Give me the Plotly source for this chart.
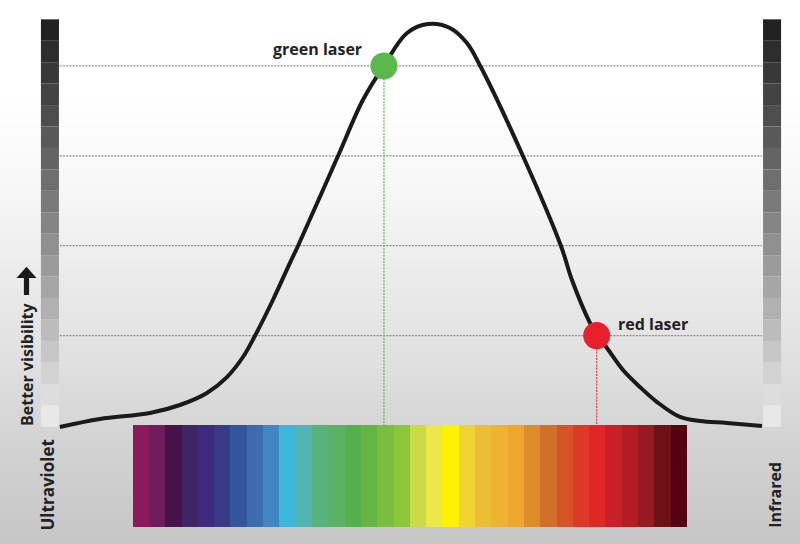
import plotly.graph_objects as go

# ---------------- data ----------------
# Visibility curve: wavelength (nm) vs relative visibility (grid units)
WAVELENGTH = [352.2, 374.4, 402.2, 418.8, 433.8, 444.9, 453.8, 460.4, 470.4, 479.8,
              484.3, 506.5, 520.3, 532.0, 544.8, 556.4, 568.6, 578.0,
              585.3, 609.1, 630.2, 636.3, 646.3, 650.2, 655.7, 664.6,
              674.0, 683.5, 696.2, 707.3, 722.3, 741.7]
VISIBILITY = [-0.017, 0.072, 0.139, 0.228, 0.362, 0.539, 0.762, 0.996, 1.396, 1.807,
              1.997, 2.998, 3.621, 4.004, 4.366, 4.466, 4.422, 4.255,
              4.004, 2.998, 1.997, 1.618, 1.140, 1.007, 0.862, 0.617,
              0.428, 0.261, 0.095, 0.050, 0.028, -0.006]

LASER_NAMES = ["green laser", "red laser"]
LASER_NM = [532, 650]
LASER_VIS = [4.0, 1.0]
LASER_COLORS = ["#5bb84c", "#e8202b"]
LASER_LINE_COLORS = ["#5cb84a", "#e03a3a"]

GRID_LEVELS = [1, 2, 3, 4]

SPECTRUM_COLORS = ["#8b1a5c", "#6f1b5c", "#46124a", "#3e2566", "#3c2b7d", "#383a88",
                   "#33559d", "#3b6cb1", "#4285c5", "#3eb6dc", "#52b5b4", "#57b27e",
                   "#5bb266", "#55b04b", "#66b446", "#7bbd40", "#8cc63f", "#cbdb46",
                   "#ece84c", "#fff200", "#f0d433", "#ecbe35", "#f0b232", "#eea630",
                   "#de8b2b", "#d17029", "#d65327", "#dc3a26", "#e02626", "#c92027",
                   "#b41c24", "#951a22", "#6f1017", "#570010"]
SPECTRUM_START_NM = 392.6
SPECTRUM_END_NM = 700.1

GREY_LEVELS = [34, 45, 56, 67, 78, 89, 100, 111, 122, 133, 144, 155, 166, 177, 188,
               199, 210, 221, 232]  # top -> bottom

AXIS_LABELS = ["Ultraviolet", "Infrared", "Better visibility"]

# ---------------- geometry (view) ----------------
X_RANGE = [319.0, 762.8]
Y_RANGE = [-1.318, 4.733]
W, H = 800, 544
SPEC_BOTTOM, SPEC_TOP = -1.132, 0.006
SCALE_BOTTOM, SCALE_TOP = -0.013, 4.518
LEFT_SCALE = (341.7, 351.7)
RIGHT_SCALE = (742.3, 752.3)
CURVE_START, CURVE_END = WAVELENGTH[0], WAVELENGTH[-1]

def px_x(p):
    return p / W

def px_y(p):
    return 1 - p / H

fig = go.Figure()

# background gradient (white top -> grey bottom)
bg_y = [5.0, 3.73, 2.73, 1.73, 0.73, -0.27, -1.5]
bg_v = [255, 255, 248, 236, 224, 210, 196]
fig.add_trace(go.Heatmap(
    x=[X_RANGE[0] - 5, X_RANGE[1] + 5], y=bg_y,
    z=[[v, v] for v in bg_v], zmin=0, zmax=255,
    colorscale=[[0, "rgb(0,0,0)"], [1, "rgb(255,255,255)"]],
    showscale=False, zsmooth="best", hoverinfo="skip"))

# gridlines (dotted)
for g in GRID_LEVELS:
    fig.add_trace(go.Scatter(
        x=[CURVE_START, CURVE_END], y=[g, g], mode="lines",
        line=dict(color="#8c8c8c", width=1.2, dash="2px,1.2px"),
        hoverinfo="skip", showlegend=False))

# spectrum stripes
n = len(SPECTRUM_COLORS)
sw = (SPECTRUM_END_NM - SPECTRUM_START_NM) / n
fig.add_trace(go.Bar(
    x=[SPECTRUM_START_NM + sw * (i + 0.5) for i in range(n)],
    y=[SPEC_TOP - SPEC_BOTTOM] * n, base=SPEC_BOTTOM, width=sw,
    marker=dict(color=SPECTRUM_COLORS, line=dict(width=0)),
    hoverinfo="skip", showlegend=False))

# vertical dotted lines from lasers to spectrum
for nm, vis, c in zip(LASER_NM, LASER_VIS, LASER_LINE_COLORS):
    fig.add_trace(go.Scatter(
        x=[nm, nm], y=[vis, SPEC_TOP], mode="lines",
        line=dict(color=c, width=1.2, dash="2px,1.2px"),
        hoverinfo="skip", showlegend=False))

# curve
fig.add_trace(go.Scatter(
    x=WAVELENGTH, y=VISIBILITY, mode="lines",
    line=dict(color="#1a1a1a", width=4, shape="spline", smoothing=1.0),
    hoverinfo="skip", showlegend=False))

# laser dots
fig.add_trace(go.Scatter(
    x=LASER_NM, y=LASER_VIS, mode="markers",
    marker=dict(color=LASER_COLORS, size=27, line=dict(width=0)),
    hoverinfo="skip", showlegend=False))

# grey scale bars
shapes = []
ng = len(GREY_LEVELS)
sh = (SCALE_TOP - SCALE_BOTTOM) / ng
for i, gl in enumerate(GREY_LEVELS):
    y1 = SCALE_TOP - i * sh
    y0 = y1 - sh
    col = f"rgb({gl},{gl},{gl})"
    for (x0, x1) in (LEFT_SCALE, RIGHT_SCALE):
        shapes.append(dict(type="rect", xref="x", yref="y", x0=x0, x1=x1,
                           y0=y0, y1=y1, fillcolor=col, line=dict(width=0),
                           layer="above"))

# up arrow next to "Better visibility"
ax_c = 26.5
pts = [(ax_c, 266.7), (ax_c + 10, 278), (ax_c + 2.6, 278), (ax_c + 2.6, 295),
       (ax_c - 2.6, 295), (ax_c - 2.6, 278), (ax_c - 10, 278)]
path = "M " + " L ".join(f"{px_x(a):.5f},{px_y(b):.5f}" for a, b in pts) + " Z"
shapes.append(dict(type="path", xref="paper", yref="paper", path=path,
                   fillcolor="#1a1a1a", line=dict(width=0), layer="above"))

font_b = dict(family="Open Sans", size=16, color="#222222", weight="bold")
font_uv = dict(family="Open Sans", size=17, color="#222222", weight="bold")
annotations = []
# laser labels
annotations.append(dict(x=LASER_NM[0], y=LASER_VIS[0], xref="x", yref="y",
                        text=LASER_NAMES[0], showarrow=False, xanchor="right",
                        yanchor="middle", xshift=-20, yshift=17, font=font_b))
annotations.append(dict(x=LASER_NM[1], y=LASER_VIS[1], xref="x", yref="y",
                        text=LASER_NAMES[1], showarrow=False, xanchor="left",
                        yanchor="middle", xshift=19, yshift=12, font=font_b))
# side labels
annotations.append(dict(x=px_x(46.5), y=px_y(485), xref="paper", yref="paper",
                        text=AXIS_LABELS[0], textangle=-90, showarrow=False,
                        xanchor="center", yanchor="middle", font=font_uv))
annotations.append(dict(x=px_x(775.5), y=px_y(495.3), xref="paper", yref="paper",
                        text=AXIS_LABELS[1], textangle=-90, showarrow=False,
                        xanchor="center", yanchor="middle", font=font_b))
annotations.append(dict(x=px_x(27), y=px_y(364), xref="paper", yref="paper",
                        text=AXIS_LABELS[2], textangle=-90, showarrow=False,
                        xanchor="center", yanchor="middle", font=font_b))

fig.update_layout(
    width=W, height=H, margin=dict(l=0, r=0, t=0, b=0),
    paper_bgcolor="white", plot_bgcolor="white",
    xaxis=dict(range=X_RANGE, visible=False, fixedrange=True),
    yaxis=dict(range=Y_RANGE, visible=False, fixedrange=True),
    barmode="overlay", bargap=0, showlegend=False,
    shapes=shapes, annotations=annotations)

fig.write_html("out.html", config={"displayModeBar": False},
               post_script="document.body.style.margin='0px';document.body.style.overflow='hidden';")
